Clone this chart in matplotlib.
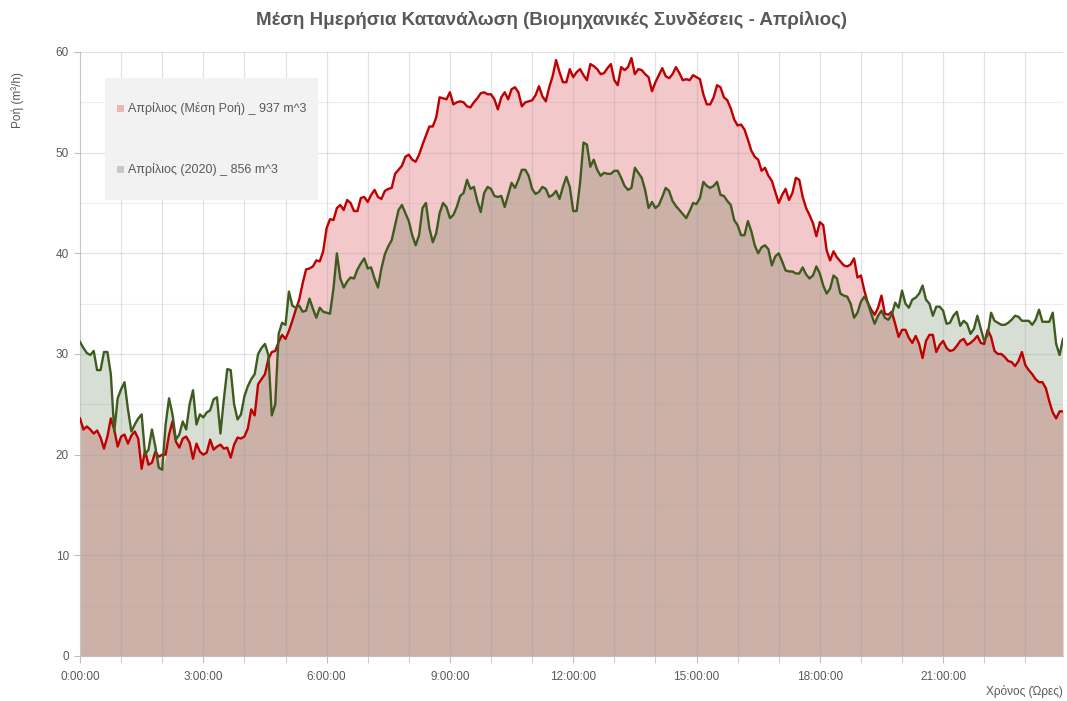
import numpy as np
import matplotlib
matplotlib.use('Agg')
import matplotlib.pyplot as plt
from matplotlib.patches import Rectangle

plt.rcParams['font.family'] = ['Liberation Sans', 'DejaVu Sans']

# 5-minute samples over one day (0:00 .. 23:55)
avg_flow = [  # Απρίλιος (Μέση Ροή)
    23.6, 22.5, 22.8, 22.5, 22.1, 22.4, 21.7, 20.6, 21.8, 23.6, 22.5, 20.8,
    21.8, 22.0, 21.1, 21.9, 22.3, 21.6, 18.6, 20.4, 19.0, 19.2, 20.3, 19.8,
    20.0, 20.0, 22.0, 23.3, 21.3, 20.7, 21.6, 21.8, 21.2, 19.6, 21.1, 20.3,
    20.0, 20.2, 21.5, 20.5, 20.8, 21.0, 20.6, 20.7, 19.7, 21.0, 21.7, 21.6,
    21.8, 22.6, 24.5, 23.9, 27.0, 27.5, 28.0, 29.5, 30.2, 30.3, 31.2, 31.9,
    31.5, 32.3, 33.3, 34.4, 35.4, 37.0, 38.4, 38.5, 38.7, 39.3, 39.2, 40.2,
    42.5, 43.4, 43.3, 44.5, 44.8, 44.3, 45.3, 45.0, 44.2, 44.2, 45.5, 45.6,
    45.1, 45.8, 46.3, 45.6, 45.4, 46.2, 46.4, 46.5, 47.9, 48.3, 48.7, 49.6,
    49.8, 49.3, 49.1, 49.8, 50.8, 51.7, 52.6, 52.6, 53.5, 55.5, 55.4, 55.3,
    56.0, 54.8, 55.0, 55.1, 55.0, 54.6, 54.5, 55.0, 55.4, 55.9, 56.0, 55.8,
    55.8, 55.3, 54.3, 55.5, 56.0, 55.3, 56.3, 56.5, 56.0, 54.6, 55.0, 55.1,
    55.2, 55.7, 56.6, 55.6, 55.1, 56.5, 57.6, 59.2, 58.0, 57.0, 57.0, 58.3,
    57.5, 58.0, 58.3, 57.7, 57.2, 58.8, 58.6, 58.3, 57.8, 57.9, 58.4, 58.8,
    57.2, 56.7, 58.5, 58.2, 58.5, 59.4, 57.8, 58.3, 58.2, 57.8, 57.5, 56.1,
    57.0, 57.7, 58.4, 57.6, 57.4, 57.8, 58.5, 57.9, 57.2, 57.3, 57.2, 57.7,
    57.5, 57.3, 55.8, 54.8, 54.8, 55.5, 56.7, 56.5, 55.5, 55.2, 54.4, 53.3,
    52.7, 52.8, 52.3, 51.3, 50.2, 49.6, 49.3, 48.2, 48.5, 47.7, 47.2, 46.1,
    45.0, 45.8, 46.4, 45.3, 46.0, 47.5, 47.3, 45.6, 44.5, 43.8, 43.0, 41.7,
    43.1, 42.8, 40.3, 39.3, 40.2, 39.6, 39.2, 38.8, 38.7, 38.9, 39.5, 37.6,
    37.8, 36.3, 35.1, 34.4, 33.9, 34.6, 35.8, 34.0, 33.9, 34.2, 33.0, 31.7,
    32.4, 32.4, 31.6, 31.1, 31.8, 31.0, 29.6, 31.3, 31.9, 31.9, 30.2, 30.9,
    31.3, 30.6, 30.3, 30.4, 30.8, 31.3, 31.5, 30.9, 31.1, 31.4, 31.8, 31.1,
    31.0, 32.4, 31.7, 30.3, 30.0, 30.0, 29.7, 29.3, 29.2, 28.8, 29.3, 30.2,
    28.9, 28.4, 28.0, 27.5, 27.2, 27.2, 26.6, 25.3, 24.2, 23.6, 24.3, 24.3,
]

flow_2020 = [  # Απρίλιος (2020)
    31.2, 30.6, 30.1, 29.9, 30.3, 28.4, 28.4, 30.2, 30.2, 28.0, 22.3, 25.6,
    26.5, 27.2, 24.5, 22.3, 23.0, 23.6, 24.0, 20.0, 20.5, 22.5, 20.8, 18.7,
    18.5, 23.0, 25.6, 24.0, 21.5, 22.0, 23.3, 22.5, 25.0, 26.4, 23.0, 24.0,
    23.7, 24.2, 24.4, 25.5, 25.7, 22.1, 25.5, 28.5, 28.4, 25.0, 23.5, 24.0,
    25.8, 26.8, 27.5, 28.0, 30.0, 30.6, 31.0, 29.9, 23.9, 25.0, 32.0, 33.1,
    32.9, 36.2, 34.8, 34.6, 34.8, 34.2, 34.3, 35.5, 34.5, 33.6, 34.6, 34.2,
    34.1, 34.0, 36.5, 40.0, 37.5, 36.6, 37.2, 37.6, 37.5, 38.4, 39.0, 39.5,
    38.5, 38.6, 37.5, 36.6, 38.5, 39.9, 40.7, 41.3, 42.8, 44.3, 44.8, 44.0,
    43.2, 41.8, 40.8, 41.8, 44.5, 45.0, 42.5, 41.1, 42.0, 44.0, 45.0, 44.6,
    43.5, 43.8, 44.6, 45.7, 46.0, 47.3, 46.4, 46.6, 45.2, 44.1, 46.0, 46.6,
    46.4, 45.7, 45.6, 45.7, 44.6, 45.8, 47.0, 46.5, 47.3, 48.3, 48.3, 47.7,
    46.4, 45.9, 46.1, 46.6, 46.4, 45.6, 45.8, 46.2, 45.4, 46.6, 47.6, 46.6,
    44.2, 44.2, 47.0, 51.0, 50.8, 48.6, 49.3, 48.3, 47.7, 48.0, 47.9, 47.9,
    48.2, 48.2, 47.5, 46.7, 46.3, 46.5, 48.5, 48.0, 47.5, 46.3, 44.5, 45.1,
    44.5, 44.8, 45.6, 46.5, 46.2, 45.2, 44.7, 44.3, 43.9, 43.5, 44.2, 45.0,
    44.9, 45.5, 47.1, 46.7, 46.5, 46.7, 47.1, 45.8, 45.7, 45.2, 44.8, 43.3,
    42.8, 41.8, 41.8, 43.2, 42.2, 40.8, 40.0, 40.6, 40.8, 40.4, 38.8, 39.7,
    40.0, 39.2, 38.3, 38.2, 38.2, 38.0, 38.0, 38.6, 37.9, 37.5, 37.8, 38.7,
    38.0, 36.8, 36.0, 36.5, 37.8, 37.5, 36.0, 35.8, 35.7, 35.0, 33.6, 34.1,
    35.2, 35.7, 35.1, 34.0, 33.0, 33.8, 34.3, 33.6, 33.4, 33.9, 35.1, 34.6,
    36.3, 35.0, 34.6, 35.4, 35.6, 36.0, 36.8, 35.4, 35.0, 33.8, 34.7, 34.7,
    34.3, 33.0, 33.1, 33.8, 34.2, 32.8, 33.3, 33.0, 32.0, 32.5, 33.8, 32.5,
    31.3, 31.9, 34.1, 33.3, 33.1, 32.9, 32.9, 33.1, 33.4, 33.8, 33.7, 33.3,
    33.3, 33.3, 32.9, 33.4, 34.4, 33.2, 33.2, 33.2, 34.1, 31.0, 29.9, 31.5,
]

labels = ['Απρίλιος (Μέση Ροή) _ 937 m^3', 'Απρίλιος (2020) _ 856 m^3']
tick_hours = [0, 3, 6, 9, 12, 15, 18, 21]

red = np.array(avg_flow)
grn = np.array(flow_2020)
t = np.arange(len(red)) / 12.0  # hours

gray_txt = '#595959'
c_red, c_grn = '#c00000', '#3e5c1f'
c_pink, c_sage, c_both = '#f3c8ca', '#d7dfd5', '#cbb1a8'

fig = plt.figure(figsize=(10.67, 7.01), dpi=100)
ax = fig.add_axes([80/1067, 1-656/701, 983/1067, 604/701])

# overlapping areas (multiply look)
ax.fill_between(t, 0, np.minimum(red, grn), color=c_both, lw=0, zorder=1)
ax.fill_between(t, grn, red, where=red >= grn, interpolate=True, color=c_pink, lw=0, zorder=1)
ax.fill_between(t, red, grn, where=grn > red, interpolate=True, color=c_sage, lw=0, zorder=1)
ax.plot(t, red, color=c_red, lw=1.7, zorder=3)
ax.plot(t, grn, color=c_grn, lw=1.7, zorder=3)

ax.set_xlim(0, t[-1])
ax.set_ylim(0, 60)
ax.set_xticks(tick_hours)
ax.set_xticklabels(['%d:00:00' % h for h in tick_hours])
ax.set_xticks(np.arange(0, 24), minor=True)
ax.set_yticks(np.arange(0, 61, 10))
ax.set_yticks(np.arange(5, 60, 10), minor=True)
ax.grid(True, which='major', color='#9a9a9a', alpha=0.27, lw=0.9, zorder=2.5)
ax.grid(True, which='minor', axis='x', color='#9a9a9a', alpha=0.27, lw=0.9, zorder=2.5)
ax.grid(True, which='minor', axis='y', color='#9a9a9a', alpha=0.17, lw=0.9, zorder=2.5)
ax.set_axisbelow(False)

for s in ['top', 'right']:
    ax.spines[s].set_visible(False)
ax.spines['bottom'].set_color('#bfbfbf')
ax.spines['left'].set_color('#d9d9d9')
ax.tick_params(axis='x', which='both', length=5, color='#bfbfbf', labelsize=8.5,
               labelcolor=gray_txt, pad=6)
ax.tick_params(axis='y', which='major', length=4, color='#bfbfbf', labelsize=8.5,
               labelcolor=gray_txt, pad=4)
ax.tick_params(axis='y', which='minor', length=0)

# legend box drawn by hand
ax.add_patch(Rectangle((0.0254, 0.755), 0.2166, 0.202, transform=ax.transAxes,
                       facecolor='#f2f2f2', edgecolor='none', zorder=5))
for yy, lab, sw in [(0.907, labels[0], '#e9b6b9'), (0.805, labels[1], '#c9c9c3')]:
    ax.add_patch(Rectangle((0.0372, yy - 0.0058), 0.0071, 0.0116, transform=ax.transAxes,
                           facecolor=sw, edgecolor='none', zorder=6))
    ax.text(0.0488, yy, lab, transform=ax.transAxes, fontsize=9, color=gray_txt,
            va='center', ha='left', zorder=6)

fig.text(551/1067, 1-20/701, 'Μέση Ημερήσια Κατανάλωση (Βιομηχανικές Συνδέσεις - Απρίλιος)',
         ha='center', va='center', fontsize=13.5, fontweight='bold', color=gray_txt)
fig.text(18/1067, 1-100/701, 'Ροή (m³/h)', rotation=90, ha='center', va='center',
         fontsize=8.5, color=gray_txt)
fig.text(1063/1067, 1-692/701, 'Χρόνος (Ώρες)', ha='right', va='center',
         fontsize=8.5, color=gray_txt)

plt.savefig('out.png', dpi=100)
